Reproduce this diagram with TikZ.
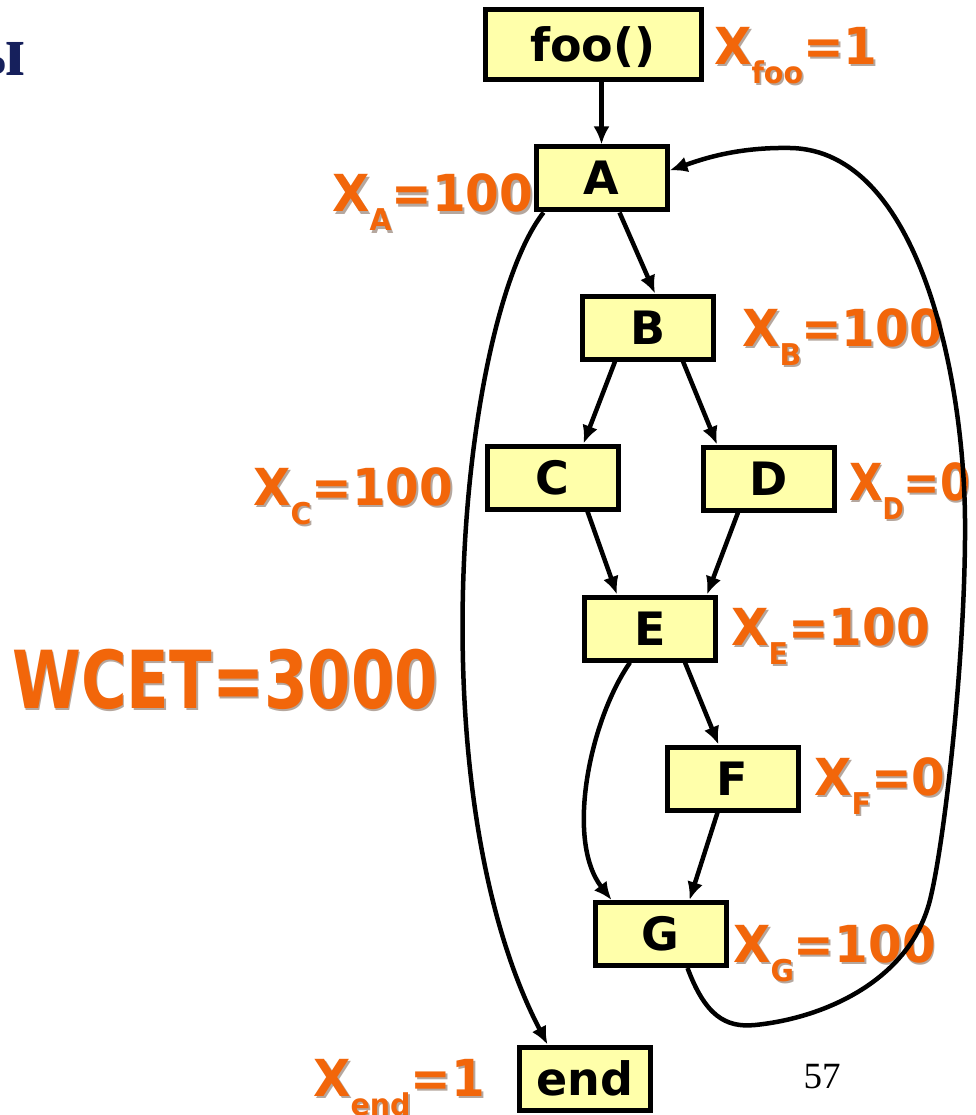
\documentclass[tikz,border=0pt]{standalone}
\usepackage{fontspec}
\setmainfont{DejaVu Sans}
\newfontfamily\boxfont{DejaVu Sans}
\newfontfamily\labfont{DejaVu Sans}
\newfontfamily\titlefont{Liberation Serif}
\usetikzlibrary{arrows.meta}
\definecolor{orng}{RGB}{242,102,10}
\definecolor{shad}{RGB}{90,60,40}
\definecolor{boxy}{RGB}{255,255,170}
\definecolor{navy}{RGB}{22,32,92}
\newcommand\shtext[1]{\makebox[0pt][l]{\hspace{2pt}\raisebox{-2pt}{\color{shad!45}#1}}{\color{orng}#1}}
\newcommand\olab[2][0.95]{\scalebox{#1}[1]{\shtext{#2}}}
\newcommand\lsub[1]{\raisebox{-19pt}{\fontsize{30}{30}\selectfont #1}}
\begin{document}
\begin{tikzpicture}[x=1pt,y=-1pt,
  blk/.style={draw=black, line width=5pt, fill=boxy, minimum width=131pt, minimum height=63pt, inner sep=0pt,
    font=\boxfont\bfseries\fontsize{46}{46}\selectfont, text height=33pt, text depth=0pt},
  lab/.style={anchor=base west, inner sep=0pt, font=\labfont\bfseries\fontsize{51}{51}\selectfont},
  arr/.style={line width=4.5pt, -{Latex[length=18pt,width=16pt]}}]
\fill[white] (0,0) rectangle (975,1115);
\useasboundingbox (0,0) rectangle (975,1115);

\node[anchor=base east, inner sep=0pt, text=navy, font=\titlefont\bfseries\fontsize{72}{72}\selectfont] (ttl) at (26,76) {ы};

\node[blk, minimum width=216pt, minimum height=70pt] (foo) at (593,45) {foo()};
\node[blk] (A) at (601.5,178.5) {A};
\node[blk] (B) at (648,327.5) {B};
\node[blk] (C) at (552.5,477.5) {C};
\node[blk] (D) at (769,478.5) {D};
\node[blk] (E) at (650,628.5) {E};
\node[blk] (F) at (732.5,778.5) {F};
\node[blk] (G) at (660.5,934) {G};
\node[blk] (end) at (584.5,1078.5) {end};

\node[lab] (lfoo) at (714,65) {\olab{X\lsub{foo}=1}};
\node[lab] (lA) at (332,212) {\olab{X\lsub{A}=100}};
\node[lab] (lB) at (742,346) {\olab{X\lsub{B}=100}};
\node[lab] (lC) at (253,505) {\olab{X\lsub{C}=100}};
\node[lab] (lD) at (849,500) {\olab[0.85]{X\lsub{D}=0}};
\node[lab] (lE) at (731,645) {\olab{X\lsub{E}=100}};
\node[lab] (lF) at (814,795) {\olab{X\lsub{F}=0}};
\node[lab] (lG) at (733,962) {\olab{X\lsub{G}=100}};
\node[lab] (lend) at (313,1096) {\olab{X\lsub{end}=1}};
\node[lab, font=\labfont\bfseries\fontsize{80}{80}\selectfont] (wcet) at (12,708) {\scalebox{0.78}[1]{\shtext{WCET=3000}}};

\node[anchor=base, inner sep=0pt, font=\titlefont\fontsize{37}{37}\selectfont] (pg) at (822,1088) {57};

\draw[arr] (foo.south -| A.north) -- (A.north);
\draw[arr] ([xshift=18pt]A.south) -- ([xshift=7pt]B.north);
\draw[arr] ([xshift=-33pt]B.south) -- ([xshift=31pt]C.north);
\draw[arr] ([xshift=35pt]B.south) -- ([xshift=-52pt]D.north);
\draw[arr] ([xshift=35pt]C.south) -- ([xshift=-33pt]E.north);
\draw[arr] ([xshift=-31pt]D.south) -- ([xshift=57pt]E.north);
\draw[arr] ([xshift=35pt]E.south) -- ([xshift=-14pt]F.north);
\draw[arr] ([xshift=-15pt]F.south) -- ([xshift=29pt]G.north);
\draw[arr] ([xshift=-20pt]E.south) .. controls (590,720) and (565,840) .. ([xshift=-49pt]G.north);
\draw[arr] ([xshift=10pt]A.south west) .. controls (460,320) and (415,790) .. ([xshift=-37pt]end.north);
\draw[arr] ([xshift=27pt]G.south) .. controls (705,1015) and (725,1028) .. (755,1025)
  .. controls (825,1018) and (910,980) .. (930,900)
  .. controls (945,840) and (966,650) .. (965,520)
  .. controls (964,380) and (920,150) .. (790,148)
  .. controls (735,147) and (700,160) .. ([yshift=8pt]A.east);
\end{tikzpicture}
\end{document}
